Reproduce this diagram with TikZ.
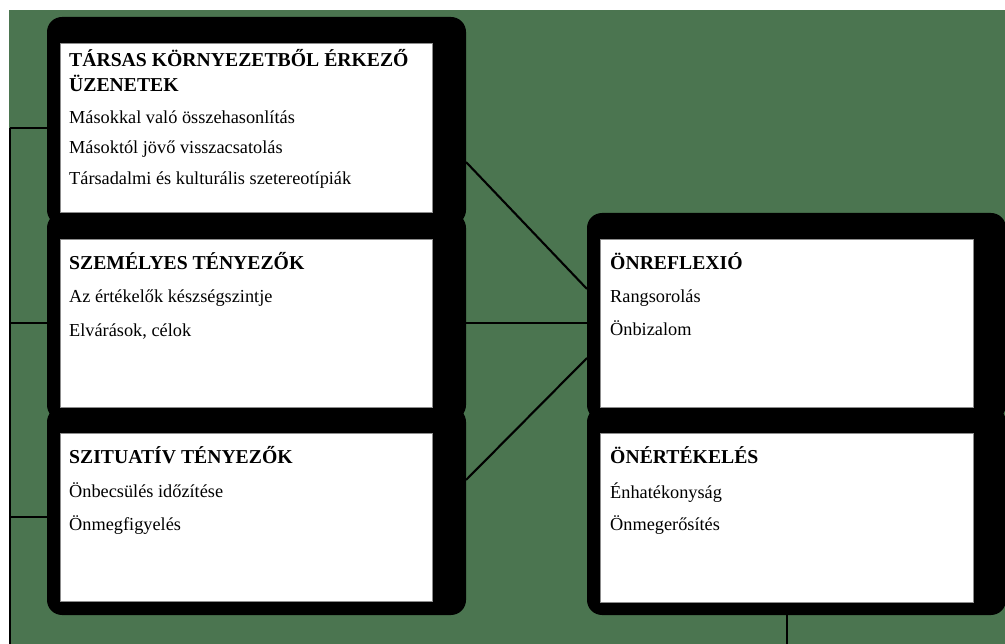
\documentclass[tikz,border=0pt]{standalone}
\usepackage{fontspec}
\setmainfont{Liberation Serif}
\definecolor{bggreen}{RGB}{75,117,80}
\tikzset{
  frame/.style={fill=black, draw=none, rounded corners=15pt, inner sep=0pt, outer sep=0pt},
  panel/.style={fill=white, draw=black!45, line width=0.6pt, inner sep=0pt, outer sep=0pt},
  head/.style={anchor=base west, inner sep=0pt, font=\fontsize{19.7}{22}\selectfont\bfseries},
  item/.style={anchor=base west, inner sep=0pt, font=\fontsize{18.3}{21}\selectfont},
  link/.style={draw=black, line width=2.1pt}
}
\begin{document}
\begin{tikzpicture}[x=1pt, y=-1pt]
\useasboundingbox (0,0) rectangle (1005,644);
\fill[white] (0,0) rectangle (1005,644);
\fill[bggreen] (9,10) rectangle (1005,644);

% black frames of the five boxes
\node[frame, minimum width=419pt, minimum height=208pt] (b1o) at (256.5,121) {};
\node[frame, minimum width=419pt, minimum height=207pt] (b2o) at (256.5,316.5) {};
\node[frame, minimum width=419pt, minimum height=208pt] (b3o) at (256.5,511) {};
\node[frame, minimum width=419pt, minimum height=207pt] (rAo) at (796.5,316.5) {};
\node[frame, minimum width=419pt, minimum height=208pt] (rBo) at (796.5,511) {};

% white panels
\node[panel, minimum width=372pt, minimum height=169pt] (b1) at (246,127.5) {};
\node[panel, minimum width=372pt, minimum height=168pt] (b2) at (246,323) {};
\node[panel, minimum width=372pt, minimum height=168pt] (b3) at (246,517) {};
\node[panel, minimum width=373pt, minimum height=168pt] (rA) at (786.5,323) {};
\node[panel, minimum width=373pt, minimum height=169pt] (rB) at (786.5,517.5) {};

% texts
\node[head] (t1a) at (69,67) {TÁRSAS KÖRNYEZETBŐL ÉRKEZŐ};
\node[head] (t1b) at (69,92) {ÜZENETEK};
\node[item] (i1a) at (69,124) {Másokkal való összehasonlítás};
\node[item] (i1b) at (69,154) {Másoktól jövő visszacsatolás};
\node[item] (i1c) at (69,185) {Társadalmi és kulturális szetereotípiák};

\node[head] (t2) at (69,270) {SZEMÉLYES TÉNYEZŐK};
\node[item] (i2a) at (69,303) {Az értékelők készségszintje};
\node[item] (i2b) at (69,337) {Elvárások, célok};

\node[head] (t3) at (69,464) {SZITUATÍV TÉNYEZŐK};
\node[item] (i3a) at (69,497) {Önbecsülés időzítése};
\node[item] (i3b) at (69,530) {Önmegfigyelés};

\node[head] (tA) at (610,270) {ÖNREFLEXIÓ};
\node[item] (iAa) at (610,303) {Rangsorolás};
\node[item] (iAb) at (610,336) {Önbizalom};

\node[head] (tB) at (610,464) {ÖNÉRTÉKELÉS};
\node[item] (iBa) at (610,498) {Énhatékonyság};
\node[item] (iBb) at (610,530) {Önmegerősítés};

% connectors
\coordinate (j1) at (10,128);
\coordinate (j2) at (10,323);
\coordinate (j3) at (10,517);
\coordinate (jend) at (10,645);
\draw[link] (j1) -- (jend);
\draw[link] (j1) -- (j1 -| b1o.west);
\draw[link] (j2) -- (j2 -| b2o.west);
\draw[link] (j3) -- (j3 -| b3o.west);

\draw[link] ([yshift=-41pt]b1o.east) -- ([yshift=27.5pt]rAo.west);
\draw[link] ([yshift=-6.5pt]b2o.east) -- ([yshift=-6.5pt]rAo.west);
\draw[link] ([yshift=31pt]b3o.east) -- ([yshift=-41.5pt]rAo.west);

\coordinate (bend) at (787,645);
\draw[link] ([xshift=-9.5pt]rBo.south) -- (bend);
\end{tikzpicture}
\end{document}
